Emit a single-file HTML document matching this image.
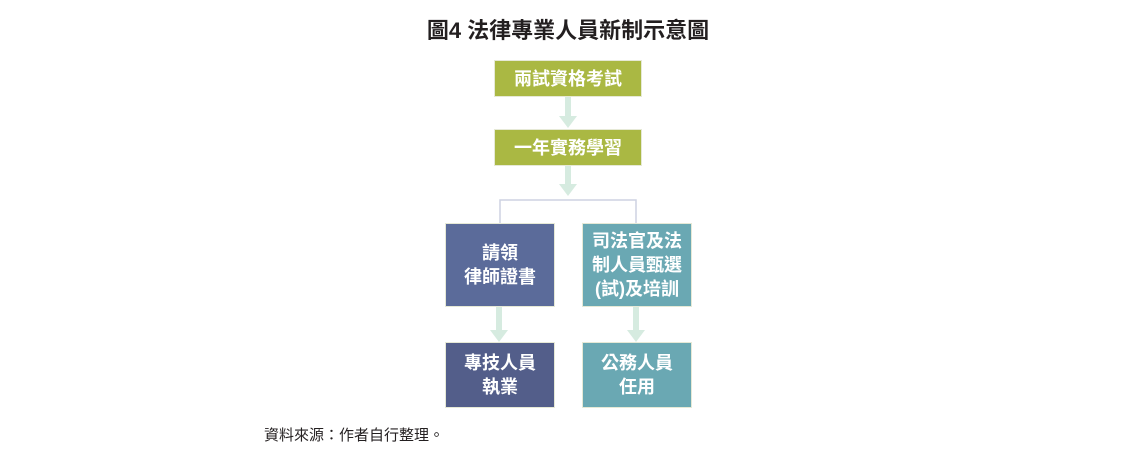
<!DOCTYPE html>
<html><head><meta charset="utf-8"><style>
body{margin:0;width:1136px;height:456px;background:#fff;position:relative;overflow:hidden;font-family:"Liberation Sans","Noto Sans CJK TC",sans-serif}
.t{position:absolute;left:368px;top:13px;width:400px;text-align:center;font-size:22px;font-weight:bold;color:#231f20;white-space:nowrap}
.b{position:absolute;display:flex;align-items:center;justify-content:center;text-align:center;color:#fff;font-weight:bold;font-size:18px;line-height:24px;box-sizing:border-box;border:1px solid #e6e9d6;white-space:nowrap}
.g{background:#aab843}
.n{background:#5b6b9a}
.d{background:#535e8a}
.c{background:#6aa8b3}
.f{position:absolute;left:264px;top:424px;font-size:15px;color:#231f20}
</style></head><body>
<div class="t">圖4 法律專業人員新制示意圖</div>
<svg width="1136" height="456" style="position:absolute;left:0;top:0">
<g fill="#d6ebe0">
<rect x="565" y="96" width="6" height="20"/><polygon points="559,116 577,116 568,128"/>
<rect x="565" y="165" width="6" height="20"/><polygon points="559,184 577,184 568,196"/>
<rect x="496" y="307" width="6" height="24"/><polygon points="490,330 508,330 499,342"/>
<rect x="633" y="307" width="6" height="24"/><polygon points="627,330 645,330 636,342"/>
</g>
<polyline points="500,223 500,200 636,200 636,223" fill="none" stroke="#cdd2e2" stroke-width="1.5"/>
</svg>
<div class="b g" style="left:494px;top:60px;width:148px;height:37px">兩試資格考試</div>
<div class="b g" style="left:494px;top:129px;width:148px;height:37px">一年實務學習</div>
<div class="b n" style="left:445px;top:223px;width:110px;height:84px">請領<br>律師證書</div>
<div class="b c" style="left:582px;top:223px;width:110px;height:84px">司法官及法<br>制人員甄選<br>(試)及培訓</div>
<div class="b d" style="left:445px;top:342px;width:110px;height:66px">專技人員<br>執業</div>
<div class="b c" style="left:582px;top:342px;width:110px;height:66px">公務人員<br>任用</div>
<div class="f">資料來源：作者自行整理。</div>
</body></html>
